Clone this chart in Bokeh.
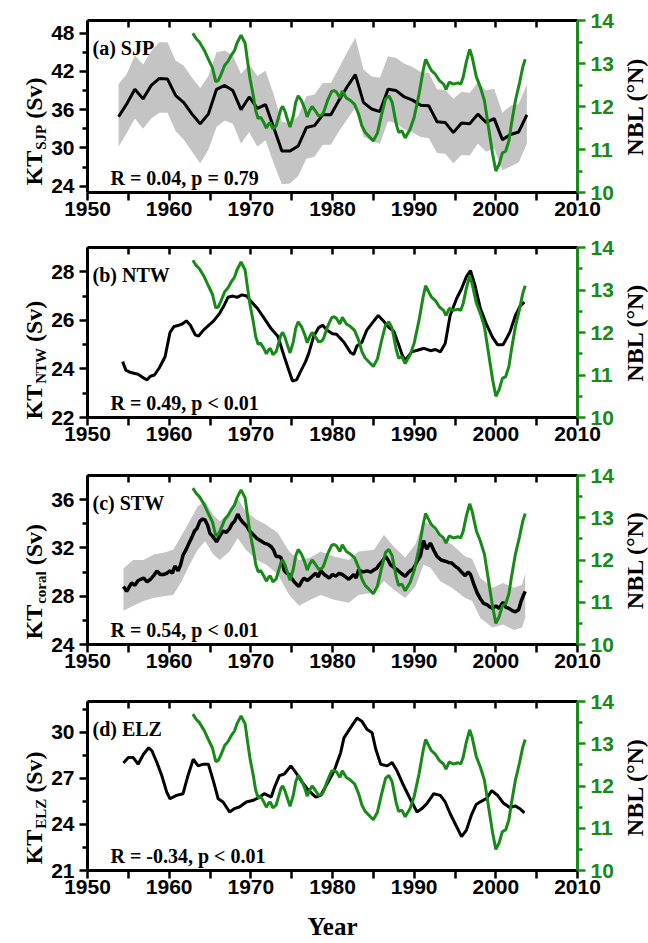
import math
from bokeh.plotting import figure
from bokeh.models import Range1d, LinearAxis, FixedTicker
from bokeh.layouts import column, row
from bokeh.embed import file_html
from bokeh.resources import INLINE
from bokeh.core.properties import value

# ---------------- data ----------------
X_TICKS = [1950, 1960, 1970, 1980, 1990, 2000, 2010]
X_MINOR = [1955, 1965, 1975, 1985, 1995, 2005]
NBL_TICKS = [10, 11, 12, 13, 14]
NBL_MINOR = [10.5, 11.5, 12.5, 13.5]

# NBL (deg N), same green curve in every panel: (year, value)
NBL = [(1962.9, 13.70), (1963.3, 13.58), (1963.7, 13.50), (1964.3, 13.31), (1964.8, 13.10),
       (1965.3, 12.90), (1965.7, 12.58), (1966.0, 12.60), (1966.3, 12.72), (1966.8, 12.96),
       (1967.2, 13.05), (1967.6, 13.19), (1968.0, 13.30), (1968.3, 13.47), (1968.8, 13.66),
       (1969.3, 13.47), (1969.6, 13.05), (1969.9, 12.65), (1970.3, 12.25), (1970.6, 11.90),
       (1970.9, 11.72), (1971.2, 11.75), (1971.6, 11.62), (1971.9, 11.50), (1972.2, 11.60),
       (1972.4, 11.62), (1972.7, 11.48), (1973.1, 11.55), (1973.4, 11.75), (1973.7, 11.95),
       (1973.9, 12.00), (1974.2, 11.88), (1974.4, 11.75), (1974.8, 11.52), (1975.2, 11.78),
       (1975.5, 12.10), (1975.8, 12.25), (1976.2, 12.14), (1976.6, 11.95), (1976.9, 11.76),
       (1977.2, 11.90), (1977.5, 12.00), (1977.9, 11.90), (1978.3, 11.78), (1978.7, 11.80),
       (1978.9, 11.86), (1979.4, 12.14), (1979.9, 12.35), (1980.2, 12.37), (1980.5, 12.33),
       (1980.9, 12.20), (1981.2, 12.36), (1981.7, 12.20), (1982.2, 12.14), (1982.7, 12.05),
       (1983.2, 11.82), (1983.6, 11.55), (1984.0, 11.40), (1984.5, 11.30), (1985.0, 11.20),
       (1985.5, 11.38), (1986.0, 11.80), (1986.5, 12.18), (1986.9, 12.25), (1987.3, 12.10),
       (1987.8, 11.60), (1988.1, 11.40), (1988.5, 11.43), (1988.9, 11.27), (1989.5, 11.47),
       (1990.0, 11.75), (1990.6, 12.29), (1991.1, 12.84), (1991.4, 13.10), (1991.8, 12.95),
       (1992.1, 12.84), (1992.6, 12.75), (1993.1, 12.60), (1993.6, 12.52), (1993.9, 12.40),
       (1994.3, 12.57), (1994.8, 12.52), (1995.4, 12.55), (1995.7, 12.52), (1996.0, 12.68),
       (1996.4, 13.05), (1996.8, 13.33), (1997.1, 13.15), (1997.6, 12.70), (1998.1, 12.45),
       (1998.6, 12.14), (1999.1, 11.52), (1999.6, 10.90), (2000.0, 10.50), (2000.4, 10.65),
       (2000.8, 10.92), (2001.2, 10.96), (2001.6, 11.20), (2001.9, 11.58), (2002.4, 12.14),
       (2002.9, 12.55), (2003.3, 12.92), (2003.6, 13.10)]

# (a) SJP: annual values with uncertainty band
SJP_YEAR = [1953.8, 1954.8, 1955.8, 1956.8, 1957.8, 1958.8, 1959.8, 1960.8, 1961.8, 1962.8,
            1963.8, 1964.8, 1965.8, 1966.8, 1967.8, 1968.8, 1969.8, 1970.8, 1971.8, 1972.8,
            1973.8, 1974.8, 1975.8, 1976.8, 1977.8, 1978.8, 1979.8, 1980.8, 1981.8, 1982.8,
            1983.8, 1984.8, 1985.8, 1986.8, 1987.8, 1988.8, 1989.8, 1990.8, 1991.8, 1992.8,
            1993.8, 1994.8, 1995.8, 1996.8, 1997.8, 1998.8, 1999.8, 2000.8, 2001.8, 2002.8,
            2003.8]
SJP_KT = [34.9, 36.9, 39.2, 37.7, 39.8, 40.9, 40.8, 38.2, 37.1, 35.3,
          33.8, 35.3, 39.2, 39.8, 39.0, 36.0, 38.0, 36.2, 36.8, 33.2,
          29.5, 29.5, 30.3, 33.2, 33.5, 35.2, 35.2, 37.5, 39.6, 41.5,
          37.1, 36.1, 35.7, 39.2, 39.0, 38.0, 37.5, 36.7, 36.6, 34.1,
          34.0, 32.4, 33.9, 33.8, 35.3, 34.0, 34.6, 31.3, 32.1, 32.5,
          35.2]
SJP_UPPER = [40.0, 41.6, 44.5, 43.1, 45.2, 46.6, 46.6, 43.7, 42.9, 41.0,
             39.4, 41.3, 45.0, 45.3, 44.5, 41.6, 43.1, 41.3, 42.1, 38.4,
             34.1, 33.9, 35.0, 38.1, 38.4, 40.2, 40.2, 42.6, 45.0, 47.3,
             42.3, 41.2, 41.0, 44.4, 44.1, 43.2, 42.7, 41.9, 41.8, 39.2,
             39.1, 37.7, 38.8, 38.6, 40.3, 39.0, 39.3, 35.5, 36.6, 36.9,
             40.0]
SJP_LOWER = [30.2, 32.3, 34.6, 33.0, 34.6, 35.5, 35.5, 32.6, 31.3, 29.4,
             27.6, 29.7, 33.3, 34.3, 33.8, 30.7, 32.5, 30.2, 31.2, 27.6,
             24.3, 24.4, 25.6, 28.3, 28.6, 30.5, 30.5, 32.6, 34.5, 36.3,
             31.8, 31.1, 30.6, 34.2, 33.9, 32.9, 32.4, 31.7, 31.5, 29.2,
             29.1, 27.6, 28.9, 28.8, 30.7, 29.4, 29.9, 26.5, 27.1, 27.7,
             30.6]

# (b) NTW: (year, KT)
NTW = [(1954.3, 24.3), (1954.7, 23.95), (1955.3, 23.85), (1956.2, 23.78), (1957.0, 23.6),
       (1957.3, 23.55), (1957.7, 23.7), (1958.2, 23.75), (1958.8, 24.05), (1959.5, 24.5),
       (1960.1, 25.5), (1960.6, 25.75), (1961.2, 25.8), (1961.6, 25.85), (1962.1, 25.98),
       (1962.6, 25.8), (1963.2, 25.4), (1963.6, 25.35), (1964.2, 25.6), (1965.0, 25.84),
       (1965.5, 26.0), (1966.2, 26.3), (1966.7, 26.6), (1967.2, 26.95), (1967.8, 27.0),
       (1968.3, 26.95), (1968.9, 27.05), (1969.5, 27.0), (1970.1, 26.75), (1970.8, 26.5),
       (1971.6, 26.1), (1972.5, 25.65), (1973.3, 25.35), (1974.1, 24.5), (1974.6, 24.0),
       (1975.1, 23.5), (1975.6, 23.55), (1976.1, 23.9), (1976.7, 24.3), (1977.1, 24.65),
       (1977.7, 25.35), (1978.3, 25.7), (1978.8, 25.8), (1979.3, 25.6), (1980.0, 25.45),
       (1980.5, 25.43), (1981.4, 25.1), (1982.2, 24.68), (1982.6, 24.6), (1983.0, 24.95),
       (1983.6, 25.1), (1984.2, 25.6), (1985.0, 25.95), (1985.6, 26.2), (1986.3, 25.95),
       (1986.9, 25.7), (1987.5, 25.55), (1988.0, 25.1), (1988.5, 24.6), (1988.9, 24.35),
       (1989.7, 24.7), (1990.5, 24.78), (1991.2, 24.85), (1992.0, 24.75), (1992.6, 24.8),
       (1993.2, 24.7), (1993.8, 25.05), (1994.4, 26.2), (1995.2, 26.9), (1995.8, 27.3),
       (1996.4, 27.8), (1996.9, 28.05), (1997.4, 27.5), (1998.1, 26.5), (1998.9, 25.8),
       (1999.6, 25.3), (2000.2, 25.0), (2000.9, 25.0), (2001.7, 25.5), (2002.4, 26.2),
       (2003.0, 26.6), (2003.5, 26.75)]

# (c) STW coral: (year, KT)
STW = [(1954.4, 28.8), (1954.8, 28.4), (1955.4, 29.1), (1955.8, 28.9), (1956.2, 29.3),
       (1956.85, 29.5), (1957.3, 29.2), (1957.7, 29.4), (1958.1, 29.7), (1958.5, 30.1),
       (1958.9, 29.8), (1959.3, 29.8), (1959.7, 29.9), (1960.1, 30.1), (1960.4, 29.9),
       (1960.7, 30.5), (1961.1, 30.1), (1961.4, 30.6), (1961.7, 31.4), (1962.1, 31.9),
       (1962.5, 32.5), (1962.8, 32.9), (1963.1, 33.4), (1963.4, 33.6), (1963.75, 34.2),
       (1964.1, 34.4), (1964.4, 34.3), (1964.7, 33.9), (1965.0, 33.2), (1965.4, 32.9),
       (1965.8, 32.5), (1966.2, 33.0), (1966.6, 33.4), (1967.0, 33.3), (1967.4, 33.6),
       (1967.7, 34.0), (1968.0, 34.2), (1968.4, 34.8), (1968.7, 34.4), (1969.05, 34.1),
       (1969.5, 33.8), (1969.85, 33.4), (1970.3, 33.1), (1970.7, 32.8), (1971.2, 32.6),
       (1971.65, 32.4), (1972.1, 32.3), (1972.5, 32.1), (1972.8, 31.8), (1973.1, 31.3),
       (1973.4, 31.3), (1973.7, 31.2), (1974.1, 30.1), (1974.4, 29.9), (1974.7, 29.8),
       (1975.0, 29.5), (1975.3, 29.2), (1975.6, 29.0), (1975.9, 28.8), (1976.2, 29.2),
       (1976.5, 29.5), (1976.9, 29.3), (1977.3, 29.5), (1977.6, 29.7), (1977.95, 29.9),
       (1978.25, 29.6), (1978.55, 30.1), (1979.0, 29.8), (1979.6, 29.5), (1980.0, 29.8),
       (1980.4, 29.65), (1980.8, 29.9), (1981.2, 29.8), (1981.6, 29.6), (1982.0, 29.4),
       (1982.3, 29.6), (1982.6, 29.8), (1982.9, 29.5), (1983.2, 30.2), (1983.7, 30.0),
       (1984.25, 30.1), (1984.7, 30.0), (1985.1, 30.2), (1985.4, 30.3), (1985.7, 30.6),
       (1986.1, 30.9), (1986.5, 31.3), (1986.8, 31.0), (1987.1, 30.6), (1987.5, 30.4),
       (1987.9, 30.2), (1988.4, 29.9), (1988.9, 29.65), (1989.2, 29.9), (1989.5, 30.1),
       (1989.8, 30.2), (1990.15, 30.6), (1990.45, 31.0), (1990.75, 31.3), (1991.15, 32.6),
       (1991.35, 32.2), (1991.55, 31.9), (1991.8, 32.2), (1992.0, 32.4), (1992.4, 31.8),
       (1992.8, 31.3), (1993.3, 31.0), (1993.8, 30.9), (1994.2, 30.8), (1994.6, 30.75),
       (1995.0, 30.5), (1995.4, 30.3), (1995.8, 30.0), (1996.25, 29.7), (1996.6, 30.0),
       (1996.9, 29.8), (1997.3, 29.0), (1997.7, 28.3), (1998.1, 27.8), (1998.5, 27.4),
       (1998.9, 27.3), (1999.3, 27.1), (1999.6, 27.0), (2000.0, 27.2), (2000.4, 27.0),
       (2000.9, 27.5), (2001.2, 27.1), (2001.6, 27.0), (2002.0, 26.8), (2002.4, 26.7),
       (2002.8, 26.9), (2003.1, 27.6), (2003.4, 28.1), (2003.6, 28.4)]

# (c) uncertainty band: (year, upper, lower)
STW_BAND = [(1954.4, 30.3, 26.8), (1955.6, 31.0, 27.2), (1956.85, 31.0, 27.6), (1958.1, 31.45, 27.85),
            (1959.3, 31.6, 28.0), (1960.5, 31.85, 28.1), (1961.5, 33.0, 29.2), (1962.5, 34.2, 30.6),
            (1963.5, 35.45, 31.85), (1964.4, 35.85, 32.55), (1965.4, 34.75, 31.45), (1966.2, 34.2, 31.0),
            (1967.4, 35.0, 31.7), (1968.4, 36.1, 32.8), (1969.4, 35.0, 31.85), (1970.7, 34.35, 31.0),
            (1971.9, 33.9, 30.6), (1973.3, 33.25, 29.8), (1974.7, 31.7, 28.1), (1975.9, 31.0, 27.2),
            (1977.3, 31.2, 27.7), (1978.55, 31.7, 28.1), (1980.2, 31.3, 27.7), (1982.0, 31.0, 27.45),
            (1983.2, 31.7, 28.1), (1985.1, 31.85, 28.3), (1986.3, 33.1, 29.25), (1987.5, 32.1, 28.55),
            (1988.9, 31.2, 27.85), (1990.15, 32.3, 28.8), (1991.15, 34.2, 30.6), (1992.0, 33.9, 30.35),
            (1993.2, 32.8, 29.25), (1994.6, 32.3, 28.7), (1996.25, 31.3, 27.85), (1997.1, 31.1, 27.6),
            (1998.1, 29.5, 26.2), (1999.6, 28.7, 25.4), (2000.9, 29.1, 25.65), (2002.2, 28.7, 25.2),
            (2003.2, 28.95, 25.4), (2003.6, 29.9, 26.2)]

# (d) ELZ: (year, KT)
ELZ = [(1954.4, 28.0), (1955.0, 28.35), (1955.6, 28.35), (1956.2, 27.92), (1956.85, 28.57),
       (1957.5, 28.99), (1957.9, 28.78), (1958.5, 28.03), (1959.1, 27.17), (1959.7, 26.1),
       (1960.1, 25.67), (1960.9, 25.89), (1961.7, 26.0), (1962.3, 27.17), (1962.95, 28.24),
       (1963.55, 27.81), (1964.2, 27.92), (1964.8, 27.92), (1965.4, 26.85), (1966.0, 25.67),
       (1966.6, 25.46), (1967.4, 24.81), (1968.0, 25.03), (1968.6, 25.13), (1969.45, 25.46),
       (1970.3, 25.57), (1971.1, 25.78), (1971.65, 26.0), (1972.5, 25.78), (1972.9, 26.42),
       (1973.5, 27.17), (1974.1, 27.28), (1974.9, 27.81), (1975.5, 27.38), (1976.3, 26.74),
       (1977.1, 26.2), (1977.95, 25.78), (1978.55, 25.89), (1979.35, 26.64), (1980.2, 27.49),
       (1981.0, 28.67), (1981.4, 29.63), (1982.2, 30.28), (1983.0, 30.92), (1983.6, 30.71),
       (1984.25, 30.17), (1984.85, 29.96), (1985.3, 28.89), (1985.9, 27.92), (1986.7, 27.81),
       (1987.3, 28.03), (1987.9, 27.49), (1988.7, 26.53), (1989.5, 25.67), (1990.35, 24.81),
       (1990.95, 25.03), (1991.55, 25.35), (1992.4, 26.0), (1993.2, 25.89), (1993.8, 25.46),
       (1994.4, 24.71), (1995.2, 23.85), (1995.8, 23.2), (1996.4, 23.63), (1997.0, 24.6),
       (1997.6, 25.3), (1998.1, 25.47), (1998.9, 25.7), (1999.5, 26.2), (2000.2, 25.9),
       (2000.9, 25.4), (2001.7, 25.1), (2002.4, 25.2), (2003.0, 25.0), (2003.5, 24.75)]

PANELS = [
    dict(tag="(a) SJP", sub="SJP", r="R = 0.04, p = 0.79", yr=(23, 50),
         ticks=[24, 30, 36, 42, 48], minor=[27, 33, 39, 45]),
    dict(tag="(b) NTW", sub="NTW", r="R = 0.49, p < 0.01", yr=(22, 29),
         ticks=[22, 24, 26, 28], minor=[23, 25, 27]),
    dict(tag="(c) STW", sub="coral", r="R = 0.54, p < 0.01", yr=(24, 38),
         ticks=[24, 28, 32, 36], minor=[26, 30, 34]),
    dict(tag="(d) ELZ", sub="ELZ", r="R = -0.34, p < 0.01", yr=(21, 32),
         ticks=[21, 24, 27, 30], minor=[22.5, 25.5, 28.5, 31.5]),
]

# ---------------- styling / layout ----------------
GREEN = "#178a17"
BAND = "#c4c4c4"
SANS = "Liberation Sans"
SERIF = "Liberation Serif"
TW = {"K": .778, "T": .667, "S": .556, "J": .5, "P": .611, "N": .722, "W": 1.0,
      "c": .444, "o": .5, "r": .444, "a": .5, "l": .278, "E": .667, "L": .667, "Z": .667}

LW, MW, RW = 48, 568, 32          # left label strip, main plots, right label strip
# per panel: (height, border top, border bottom, label start px above frame bottom)
GEOM = [(225, 20, 33, 7), (229, 22, 37, -2), (227, 21, 37, 5), (261, 20, 70, 8)]
TOTAL_H = sum(g[0] for g in GEOM)


def style_axis(ax, color="black"):
    ax.axis_line_width = 3
    ax.axis_line_color = color
    ax.major_tick_line_width = 2.5
    ax.minor_tick_line_width = 2.5
    ax.major_tick_line_color = color
    ax.minor_tick_line_color = color
    ax.major_label_text_font = SANS
    ax.major_label_text_font_style = "bold"
    ax.major_label_text_font_size = "21px"
    ax.major_label_text_color = color
    ax.major_tick_in = 0
    ax.minor_tick_in = 0


def make_panel(i):
    cfg = PANELS[i]
    h, bt, bb, _ = GEOM[i]
    lo, hi = cfg["yr"]
    p = figure(width=MW, height=h, x_range=Range1d(1950, 2010), y_range=Range1d(lo, hi),
               output_backend="svg", toolbar_location=None,
               x_axis_location=None, y_axis_location=None,
               min_border_left=38, min_border_right=38, min_border_top=bt, min_border_bottom=bb)
    p.extra_y_ranges = {"nbl": Range1d(10, 14)}
    p.outline_line_color = None
    p.grid.visible = False

    bottom = LinearAxis(ticker=FixedTicker(ticks=X_TICKS, minor_ticks=X_MINOR))
    style_axis(bottom)
    bottom.major_tick_out = 8
    bottom.minor_tick_out = 8
    bottom.major_label_standoff = 1
    if i == 3:
        bottom.axis_label = "Year"
        bottom.axis_label_text_font = SERIF
        bottom.axis_label_text_font_style = "bold"
        bottom.axis_label_text_font_size = "25px"
        bottom.axis_label_text_color = "black"
        bottom.axis_label_standoff = 16
    p.add_layout(bottom, "below")

    top = LinearAxis(ticker=FixedTicker(ticks=X_TICKS, minor_ticks=X_MINOR))
    style_axis(top)
    top.major_tick_out = 0
    top.minor_tick_out = 0
    top.major_tick_in = 7
    top.minor_tick_in = 7
    top.major_label_overrides = {t: "" for t in X_TICKS}
    top.major_label_text_font_size = "1px"
    top.major_label_standoff = 0
    p.add_layout(top, "above")

    left = LinearAxis(ticker=FixedTicker(ticks=cfg["ticks"], minor_ticks=cfg["minor"]))
    style_axis(left)
    left.major_tick_out = 8
    left.minor_tick_out = 5
    left.major_label_standoff = 5
    p.add_layout(left, "left")

    right = LinearAxis(y_range_name="nbl", ticker=FixedTicker(ticks=NBL_TICKS, minor_ticks=NBL_MINOR))
    style_axis(right, GREEN)
    right.major_tick_out = 8
    right.minor_tick_out = 5
    right.major_label_standoff = 5
    p.add_layout(right, "right")

    if i == 0:
        p.varea(x=SJP_YEAR, y1=SJP_LOWER, y2=SJP_UPPER, fill_color=BAND)
        p.line(SJP_YEAR, SJP_KT, line_color="black", line_width=3)
    elif i == 1:
        p.line([a for a, b in NTW], [b for a, b in NTW], line_color="black", line_width=3)
    elif i == 2:
        p.varea(x=[a for a, b, c in STW_BAND], y1=[c for a, b, c in STW_BAND],
                y2=[b for a, b, c in STW_BAND], fill_color=BAND)
        p.line([a for a, b in STW], [b for a, b in STW], line_color="black", line_width=3.5)
    else:
        p.line([a for a, b in ELZ], [b for a, b in ELZ], line_color="black", line_width=3)
    p.line([a for a, b in NBL], [b for a, b in NBL], y_range_name="nbl",
           line_color=GREEN, line_width=3)

    common = dict(text_font=value(SERIF), text_font_style="bold", text_color="black",
                  text_align="left", text_baseline="alphabetic", text_font_size=value("20px"))
    p.text(x=[1950], y=[hi], x_offset=5, y_offset=27, text=[cfg["tag"]], **common)
    p.text(x=[1950], y=[lo], x_offset=23, y_offset=-15, text=[cfg["r"]], **common)
    return p


def strip(width):
    f = figure(width=width, height=TOTAL_H, x_range=Range1d(0, width), y_range=Range1d(0, TOTAL_H),
               output_backend="svg", toolbar_location=None,
               x_axis_location=None, y_axis_location=None,
               min_border=0, min_border_left=0, min_border_right=0,
               min_border_top=0, min_border_bottom=0)
    f.outline_line_color = None
    f.grid.visible = False
    return f


plots = [make_panel(i) for i in range(4)]

# left strip: KT_xxx (Sv) labels; right strip: NBL (°N) labels
left_strip = strip(LW)
right_strip = strip(RW)
main_sz, sub_sz = 24, 15
lab = dict(text_font=value(SERIF), text_font_style="bold", text_color="black",
           text_baseline="alphabetic", angle=math.pi / 2)
top_px = 0
kt_y, sub_y, sv_y, subs, nbl_y = [], [], [], [], []
for i, (h, bt, bb, lab0) in enumerate(GEOM):
    frame_top = top_px + bt
    frame_bot = top_px + h - bb
    y0 = TOTAL_H - frame_bot + lab0
    y1 = y0 + (TW["K"] + TW["T"]) * main_sz + 1
    y2 = y1 + sum(TW[ch] for ch in PANELS[i]["sub"]) * sub_sz + 6
    kt_y.append(y0)
    sub_y.append(y1)
    sv_y.append(y2)
    subs.append(PANELS[i]["sub"])
    nbl_y.append(TOTAL_H - (frame_top + frame_bot) / 2)
    top_px += h

left_strip.text(x=[33] * 4, y=kt_y, text=["KT"] * 4, text_align="left",
                text_font_size=value(f"{main_sz}px"), **lab)
left_strip.text(x=[40] * 4, y=sub_y, text=subs, text_align="left",
                text_font_size=value(f"{sub_sz}px"), **lab)
left_strip.text(x=[33] * 4, y=sv_y, text=["(Sv)"] * 4, text_align="left",
                text_font_size=value(f"{main_sz}px"), **lab)
right_strip.text(x=[18] * 4, y=nbl_y, text=["NBL (°N)"] * 4, text_align="center",
                 text_font_size=value("24px"), **lab)

layout = row(left_strip, column(*plots), right_strip)
open("out.html", "w").write(file_html(layout, INLINE))
